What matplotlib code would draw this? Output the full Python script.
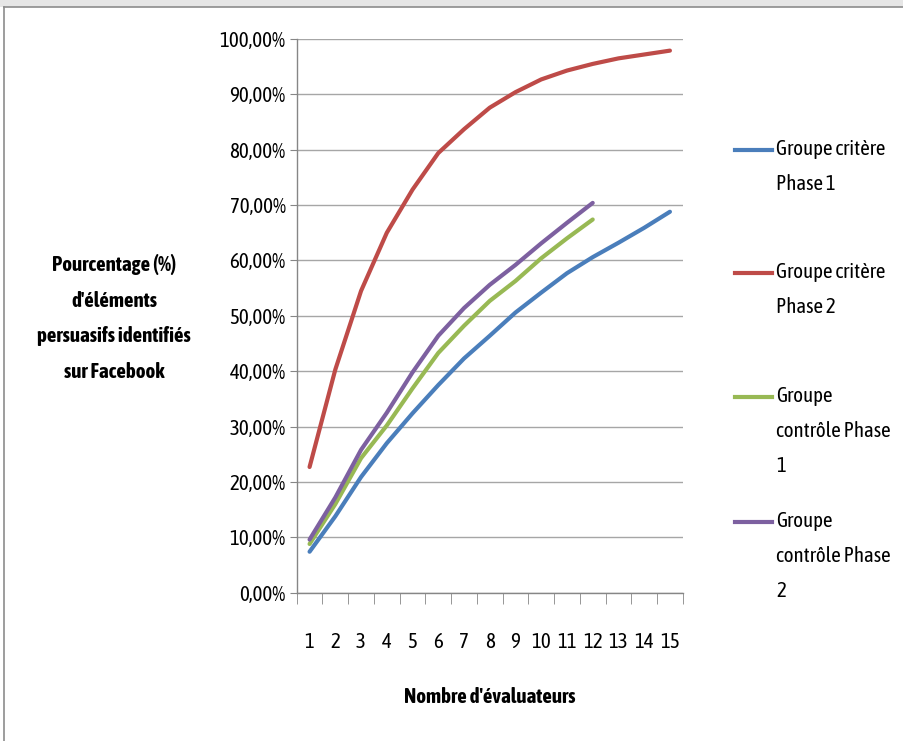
import matplotlib.pyplot as plt
from matplotlib import font_manager
from matplotlib.lines import Line2D
from matplotlib.patches import Rectangle
from matplotlib.ticker import FuncFormatter, MultipleLocator


def weight_of(entry):
    w = entry.weight
    return font_manager.weight_dict.get(w, 400) if isinstance(w, str) else int(w)


# pick a narrow font close to Calibri, preferably one that also has a bold face
entries = [f for f in font_manager.fontManager.ttflist
           if "Narrow" in f.name or "Condensed" in f.name]
with_bold = sorted({f.name for f in entries if weight_of(f) >= 600})
narrow = sorted({f.name for f in entries})
if "Liberation Sans Narrow" in with_bold:
    family = "Liberation Sans Narrow"
elif with_bold:
    family = with_bold[0]
elif narrow:
    family = narrow[0]
else:
    family = "Lato"
fs = 15 if narrow else 13
plt.rcParams["font.family"] = [family, "DejaVu Sans"]

evaluators = list(range(1, 16))

critere_p1 = [7.4, 13.8, 20.9, 27.0, 32.4, 37.5, 42.3, 46.4, 50.6, 54.2, 57.7, 60.6, 63.2, 65.9, 68.8]
critere_p2 = [22.7, 40.3, 54.5, 65.0, 72.8, 79.4, 83.7, 87.6, 90.4, 92.7, 94.3, 95.5, 96.5, 97.2, 97.9]
controle_p1 = [8.8, 16.0, 24.3, 30.2, 36.9, 43.3, 48.2, 52.7, 56.3, 60.4, 64.0, 67.4]
controle_p2 = [9.6, 17.2, 25.8, 32.5, 39.8, 46.4, 51.4, 55.6, 59.2, 63.1, 66.8, 70.4]

series = [
    ("Groupe critère\nPhase 1", critere_p1, "#4A7EBB"),
    ("Groupe critère\nPhase 2", critere_p2, "#BE4B48"),
    ("Groupe\ncontrôle Phase\n1", controle_p1, "#98B954"),
    ("Groupe\ncontrôle Phase\n2", controle_p2, "#7D60A0"),
]

W, H = 904, 741
fig = plt.figure(figsize=(W / 100, H / 100), dpi=100)

# chart area frame (shadow strip on top, thin grey border)
fig.patches.append(Rectangle((0, 1 - 7 / H), 1, 7 / H, transform=fig.transFigure,
                             facecolor="#E6E6E6", edgecolor="none", zorder=0))
fig.add_artist(Line2D([4 / W, 4 / W], [0, 1 - 7 / H], transform=fig.transFigure,
                      color="#8C8C8C", lw=1.2))
fig.add_artist(Line2D([4 / W, 1], [1 - 7 / H, 1 - 7 / H], transform=fig.transFigure,
                      color="#8C8C8C", lw=1.2))

ax = fig.add_axes([296.7 / W, 1 - 592.7 / H, 386.1 / W, (592.7 - 39) / H])

for label, values, color in series:
    ax.plot(range(len(values)), [v / 100 for v in values], color=color, lw=3,
            solid_capstyle="round", zorder=3)

ax.set_xlim(-0.5, len(evaluators) - 0.5)
ax.set_ylim(0, 1)

ax.yaxis.set_major_locator(MultipleLocator(0.1))
ax.yaxis.set_major_formatter(FuncFormatter(lambda v, p: f"{v * 100:.2f}%".replace(".", ",")))
ax.grid(axis="y", color="#A6A6A6", lw=1)
ax.set_axisbelow(True)

ax.set_xticks(range(len(evaluators)))
ax.set_xticklabels([str(e) for e in evaluators])
ax.set_xticks([i - 0.5 for i in range(len(evaluators) + 1)], minor=True)
ax.tick_params(axis="x", which="major", length=0, pad=28, labelsize=fs)
ax.tick_params(axis="x", which="minor", length=8, color="#868686", direction="out")
ax.tick_params(axis="y", length=5, color="#868686", pad=3, labelsize=fs)

for side in ("top", "right"):
    ax.spines[side].set_visible(False)
for side in ("left", "bottom"):
    ax.spines[side].set_color("#868686")
    ax.spines[side].set_linewidth(1)

fig.text(114 / W, 1 - 318 / H,
         "Pourcentage (%)\nd'éléments\npersuasifs identifiés\nsur Facebook",
         ha="center", va="center", fontsize=fs, fontweight="bold", linespacing=1.97)
fig.text(490 / W, 1 - 697 / H, "Nombre d'évaluateurs",
         ha="center", va="center", fontsize=fs, fontweight="bold")

# legend on the right, key aligned with the first line of each label
legend_top = [150, 273, 397, 522]
for (label, values, color), ytop in zip(series, legend_top):
    yf = 1 - ytop / H
    fig.add_artist(Line2D([735 / W, 772 / W], [yf, yf], transform=fig.transFigure,
                          color=color, lw=3))
    fig.text(776 / W, yf + 11 / H, label, ha="left", va="top", fontsize=fs,
             linespacing=1.95)

fig.savefig("out.png", dpi=100)
